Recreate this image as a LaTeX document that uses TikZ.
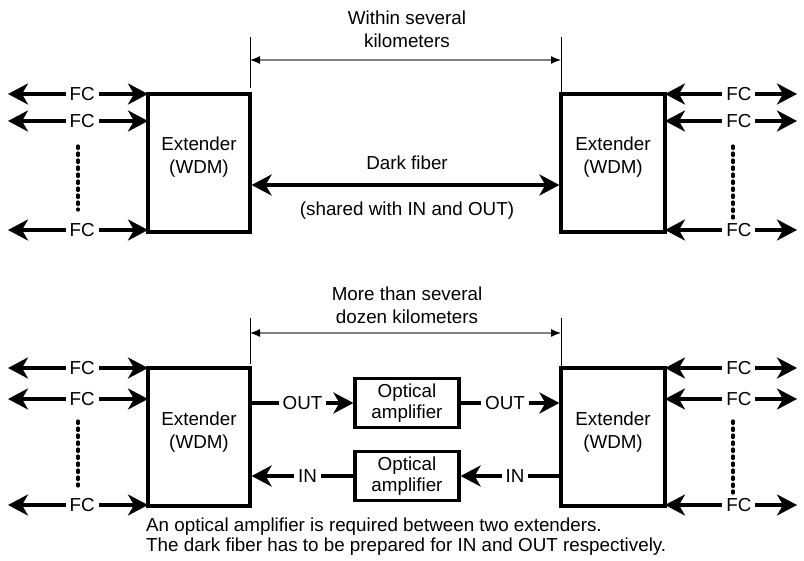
\documentclass[tikz,border=0pt]{standalone}
\usepackage{fontspec}
\setmainfont{Liberation Sans}
\usetikzlibrary{arrows.meta}
\begin{document}
\begin{tikzpicture}[x=1pt,y=-1pt,
  every node/.style={font=\fontsize{18.8}{23}\selectfont, inner sep=0pt},
  box/.style={draw, line width=3.2pt, minimum width=102pt, minimum height=138pt},
  amp/.style={draw, line width=3.2pt, minimum width=104pt, minimum height=49pt, align=center, font=\fontsize{18.8}{20.5}\selectfont},
  txt/.style={align=center},
  lbl/.style={fill=white, inner xsep=4pt, inner ysep=1pt},
  fc/.style={line width=3.4pt, {Stealth[length=20pt,width=21pt,inset=6pt]}-{Stealth[length=20pt,width=21pt,inset=6pt]}},
  sig/.style={line width=3.4pt, -{Stealth[length=20pt,width=21pt,inset=6pt]}},
  dim/.style={draw=gray, line width=1.2pt, {Latex[length=10pt,width=8pt,black]}-{Latex[length=10pt,width=8pt,black]}},
  ext/.style={draw=black, line width=1pt},
  dots/.style={line width=3.2pt, line cap=round, dash pattern=on 2.5pt off 4.5pt}
]
\useasboundingbox (0,0) rectangle (804,561);

% ---------- top section ----------
\node[box] (L1) at (199,163) {};
\node[box, minimum width=104pt] (R1) at (613,163) {};
\node[txt] (L1t) at (199,157) {Extender\\(WDM)};
\node[txt] (R1t) at (613,157) {Extender\\(WDM)};

\coordinate (L1a) at (8,94);
\coordinate (L1b) at (8,121);
\coordinate (L1c) at (8,230);
\coordinate (L1ae) at (148,94);
\coordinate (L1be) at (148,121);
\coordinate (L1ce) at (148,230);
\draw[fc] (L1a) -- node[lbl, pos=0.53] (fc1) {FC} (L1ae);
\draw[fc] (L1b) -- node[lbl, pos=0.53] (fc2) {FC} (L1be);
\draw[fc] (L1c) -- node[lbl, pos=0.53] (fc3) {FC} (L1ce);
\coordinate (d1a) at (78,146);
\coordinate (d1b) at (78,210);
\draw[dots] (d1a) -- (d1b);

\coordinate (R1a) at (797,94);
\coordinate (R1b) at (797,121);
\coordinate (R1c) at (797,230);
\coordinate (R1ae) at (665,94);
\coordinate (R1be) at (665,121);
\coordinate (R1ce) at (665,230);
\draw[fc] (R1ae) -- node[lbl, pos=0.56] (fc4) {FC} (R1a);
\draw[fc] (R1be) -- node[lbl, pos=0.56] (fc5) {FC} (R1b);
\draw[fc] (R1ce) -- node[lbl, pos=0.56] (fc6) {FC} (R1c);
\coordinate (d2a) at (733,146);
\coordinate (d2b) at (733,218);
\draw[dots] (d2a) -- (d2b);

\draw[fc] (L1.east |- 0,185) -- (R1.west |- 0,185);
\node (df) at (407,163) {Dark fiber};
\node (sh) at (407,211) {(shared with IN and OUT)};

\coordinate (e1a) at (250,37);
\coordinate (e1b) at (250,88);
\coordinate (e2a) at (561,37);
\coordinate (e2b) at (561,93);
\draw[ext] (e1a) -- (e1b);
\draw[ext] (e2a) -- (e2b);
\draw[dim] (250,60) -- (561,60);
\node[txt] (w1) at (407,29) {Within several\\kilometers};

% ---------- bottom section ----------
\node[box] (L2) at (199,437) {};
\node[box, minimum width=104pt] (R2) at (613,437) {};
\node[txt] (L2t) at (199,432) {Extender\\(WDM)};
\node[txt] (R2t) at (613,432) {Extender\\(WDM)};

\coordinate (L2a) at (8,368);
\coordinate (L2b) at (8,399);
\coordinate (L2c) at (8,505);
\coordinate (L2ae) at (148,368);
\coordinate (L2be) at (148,399);
\coordinate (L2ce) at (148,505);
\draw[fc] (L2a) -- node[lbl, pos=0.53] (fc7) {FC} (L2ae);
\draw[fc] (L2b) -- node[lbl, pos=0.53] (fc8) {FC} (L2be);
\draw[fc] (L2c) -- node[lbl, pos=0.53] (fc9) {FC} (L2ce);
\coordinate (d3a) at (78,421);
\coordinate (d3b) at (78,486);
\draw[dots] (d3a) -- (d3b);

\coordinate (R2a) at (797,368);
\coordinate (R2b) at (797,399);
\coordinate (R2c) at (797,505);
\coordinate (R2ae) at (665,368);
\coordinate (R2be) at (665,399);
\coordinate (R2ce) at (665,505);
\draw[fc] (R2ae) -- node[lbl, pos=0.56] (fc10) {FC} (R2a);
\draw[fc] (R2be) -- node[lbl, pos=0.56] (fc11) {FC} (R2b);
\draw[fc] (R2ce) -- node[lbl, pos=0.56] (fc12) {FC} (R2c);
\coordinate (d4a) at (733,421);
\coordinate (d4b) at (733,493);
\draw[dots] (d4a) -- (d4b);

\node[amp] (A1) at (407,403) {Optical\\amplifier};
\node[amp] (A2) at (407,476) {Optical\\amplifier};

\draw[sig] (L2.east |- A1) -- node[lbl] (o1) {OUT} (A1.west);
\draw[sig] (A1.east) -- node[lbl, pos=0.45] (o2) {OUT} (R2.west |- A1);
\draw[sig] (R2.west |- A2) -- node[lbl, pos=0.45] (i1) {IN} (A2.east);
\draw[sig] (A2.west) -- node[lbl, pos=0.45] (i2) {IN} (L2.east |- A2);

\coordinate (e3a) at (250,318);
\coordinate (e3b) at (250,364);
\coordinate (e4a) at (561,318);
\coordinate (e4b) at (561,367);
\draw[ext] (e3a) -- (e3b);
\draw[ext] (e4a) -- (e4b);
\draw[dim] (250,333) -- (561,333);
\node[txt] (w2) at (407,305) {More than several\\dozen kilometers};

\node[align=left, anchor=west, font=\fontsize{18.8}{20}\selectfont] (note) at (146,537) {An optical amplifier is required between two extenders.\\The dark fiber has to be prepared for IN and OUT respectively.};
\end{tikzpicture}
\end{document}
